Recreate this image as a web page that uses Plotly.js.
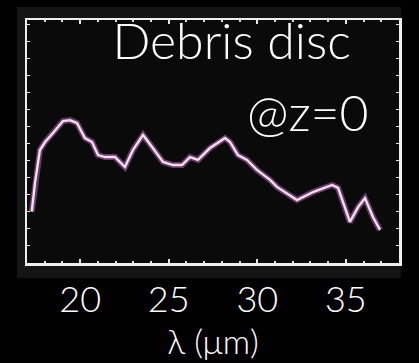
<!DOCTYPE html>
<html>
<head>
<meta charset="utf-8">
<script src="https://cdn.plot.ly/plotly-3.0.1.min.js"></script>
<style>html,body{margin:0;padding:0;background:#000;}#chart{width:419px;height:363px;}</style>
</head>
<body>
<div id="chart"></div>
<script>
// wavelength (µm)
const wavelength = [17.27,17.45,17.73,18.02,18.47,19.03,19.43,19.82,20.27,20.67,21.01,21.40,21.97,22.53,22.98,23.55,24.06,24.68,25.24,25.75,26.20,26.65,27.33,28.18,28.46,28.91,29.42,29.98,30.72,31.11,32.24,33.15,34.22,34.56,35.23,35.69,36.08,36.53,36.93];
// flux (arbitrary units)
const flux = [2.11,3.29,4.65,4.98,5.35,5.84,5.88,5.76,5.14,4.98,4.44,4.36,4.36,3.95,4.65,5.27,4.77,4.16,4.03,4.03,4.36,4.24,4.73,5.14,4.98,4.44,4.24,3.83,3.42,3.13,2.59,2.92,3.21,3.09,1.69,2.30,2.67,1.89,1.36];
const tickValues = [20,25,30,35];
const tickLabels = ['20','25','30','35'];
const titleText = 'Debris disc';
const subText = '@z=0';
const xTitle = 'λ (μm)';

const font = 'Lato, "Noto Sans", sans-serif';
const traces = [
  {x: wavelength, y: flux, mode:'lines', line:{color:'rgba(190,110,190,0.5)', width:6}, hoverinfo:'skip', showlegend:false},
  {x: wavelength, y: flux, mode:'lines', line:{color:'#f6dcf2', width:2.4}, showlegend:false}
];
const axCommon = {showline:true, linecolor:'#eeeeee', linewidth:2.5, mirror:'ticks', ticks:'inside', tickcolor:'#e6e6e6', showgrid:false, zeroline:false};
const layout = {
  width:419, height:363,
  margin:{l:27, r:20, t:20, b:100},
  paper_bgcolor:'#000', plot_bgcolor:'rgba(0,0,0,0)',
  font:{family:font, color:'#fff', weight:300},
  title:{text:titleText, font:{size:50, color:'#fff', family:font, weight:300}, x:0.55, xref:'paper', xanchor:'center', y:0.985, yref:'paper', yanchor:'top'},
  xaxis:Object.assign({}, axCommon, {range:[17,38], tickvals:tickValues, ticktext:tickLabels, ticklen:4, tickwidth:2,
    tickfont:{size:36, color:'#fff', family:font, weight:300}, ticklabelstandoff:3,
    minor:{dtick:1, ticks:'inside', ticklen:2, tickcolor:'#dddddd'},
    title:{text:xTitle, font:{size:34, color:'#fff', family:font, weight:300}, standoff:0}}),
  yaxis:Object.assign({}, axCommon, {range:[0,10], dtick:0.7, ticklen:3, showticklabels:false}),
  shapes:[
    {type:'rect', xref:'paper', yref:'paper', x0:-0.027, x1:1.005, y0:-0.062, y1:1.053, fillcolor:'#141414', line:{width:0}, layer:'below'},
    {type:'rect', xref:'paper', yref:'paper', x0:0, x1:1, y0:0, y1:1, fillcolor:'#0a0a0a', line:{width:0}, layer:'below'}
  ],
  annotations:[
    {text:subText, xref:'paper', yref:'paper', x:0.925, y:0.62, xanchor:'right', yanchor:'middle', showarrow:false, font:{size:50, color:'#fff', family:font, weight:300}}
  ]
};
Plotly.newPlot('chart', traces, layout, {displayModeBar:false, staticPlot:true});
</script>
</body>
</html>
